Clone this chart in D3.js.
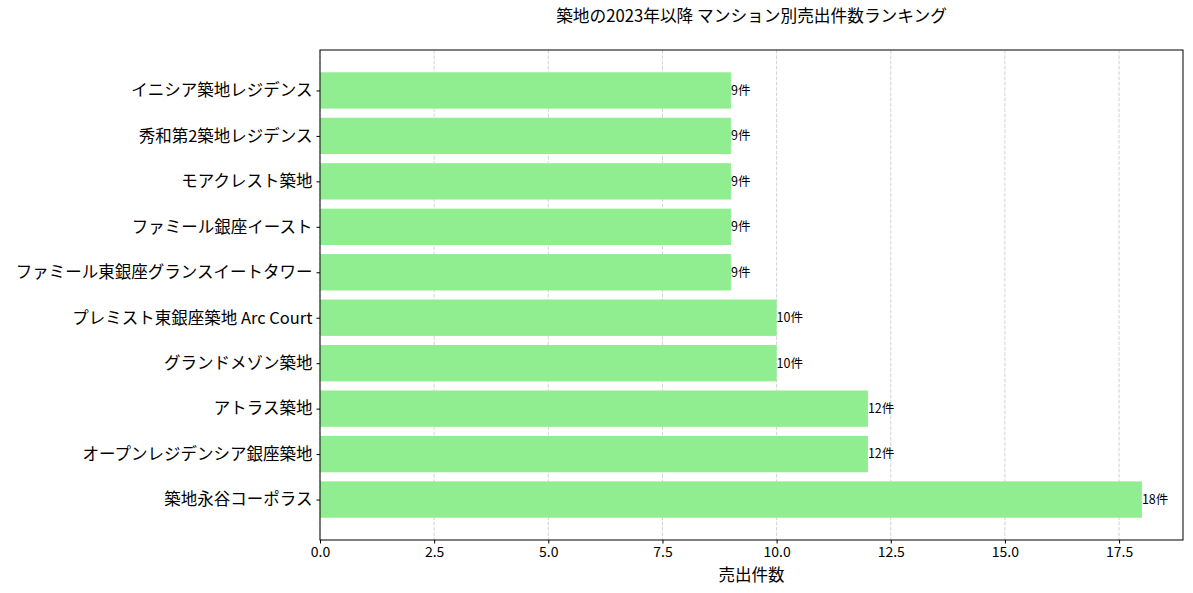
<!DOCTYPE html>
<html><head><meta charset="utf-8">
<script src="https://cdn.jsdelivr.net/npm/d3@7"></script>
<style>
body{margin:0;background:#fff;}
text{font-family:"Noto Sans CJK JP","Noto Sans",sans-serif;fill:#000;}
</style></head>
<body><svg id="c" width="1193" height="593"></svg>
<script>
// data, bottom-to-top order as matplotlib barh
const names = ["築地永谷コーポラス","オープンレジデンシア銀座築地","アトラス築地","グランドメゾン築地","プレミスト東銀座築地 Arc Court","ファミール東銀座グランスイートタワー","ファミール銀座イースト","モアクレスト築地","秀和第2築地レジデンス","イニシア築地レジデンス"];
const counts = [18,12,12,10,10,9,9,9,9,9];
const xTicks = [0,2.5,5,7.5,10,12.5,15,17.5];
const title = "築地の2023年以降 マンション別売出件数ランキング";
const xLabel = "売出件数";

const svg = d3.select("#c");
const L=320, R=1183, T=50, B=540;
const x = d3.scaleLinear().domain([0, d3.max(counts)*1.05]).range([L,R]);
const y = d3.scaleLinear().domain([-0.89, names.length-1+0.89]).range([B,T]);

// grid
svg.append("g").selectAll("line").data(xTicks).join("line")
  .attr("x1",d=>x(d)).attr("x2",d=>x(d)).attr("y1",T).attr("y2",B)
  .attr("stroke","#b0b0b0").attr("stroke-opacity",0.7).attr("stroke-width",0.8).attr("stroke-dasharray","3.7,1.6");

// bars
svg.append("g").selectAll("rect").data(counts).join("rect")
  .attr("x",x(0)).attr("width",d=>x(d)-x(0))
  .attr("y",(d,i)=>y(i+0.4)).attr("height",(d,i)=>y(i-0.4)-y(i+0.4))
  .attr("fill","#90ee90");

// value labels
svg.append("g").selectAll("text").data(counts).join("text")
  .attr("x",d=>x(d)).attr("y",(d,i)=>y(i)).attr("dy","0.35em")
  .attr("font-size",12.5).text(d=>d+"件");

// axes
const xa = svg.append("g").attr("transform",`translate(0,${B})`)
  .call(d3.axisBottom(x).tickValues(xTicks).tickFormat(d3.format(".1f")).tickSize(3.5).tickPadding(3.5));
xa.select(".domain").remove();
xa.selectAll("text").attr("font-size",14).style("font-family","'Noto Sans CJK JP',sans-serif");
xa.selectAll("line").attr("stroke","#000");

const ya = svg.append("g").attr("transform",`translate(${L},0)`)
  .call(d3.axisLeft(y).tickValues(d3.range(names.length)).tickFormat(i=>names[i]).tickSize(3.5).tickPadding(4));
ya.select(".domain").remove();
ya.selectAll("text").attr("font-size",16.5).style("font-family","'Noto Sans CJK JP',sans-serif");
ya.selectAll("line").attr("stroke","#000");

// frame
svg.append("rect").attr("x",L).attr("y",T).attr("width",R-L).attr("height",B-T)
  .attr("fill","none").attr("stroke","#000").attr("stroke-width",1);

svg.append("text").attr("x",(L+R)/2).attr("y",22).attr("text-anchor","middle")
  .attr("font-size",16.7).text(title);
svg.append("text").attr("x",(L+R)/2).attr("y",581).attr("text-anchor","middle")
  .attr("font-size",16.5).text(xLabel);
</script></body></html>
